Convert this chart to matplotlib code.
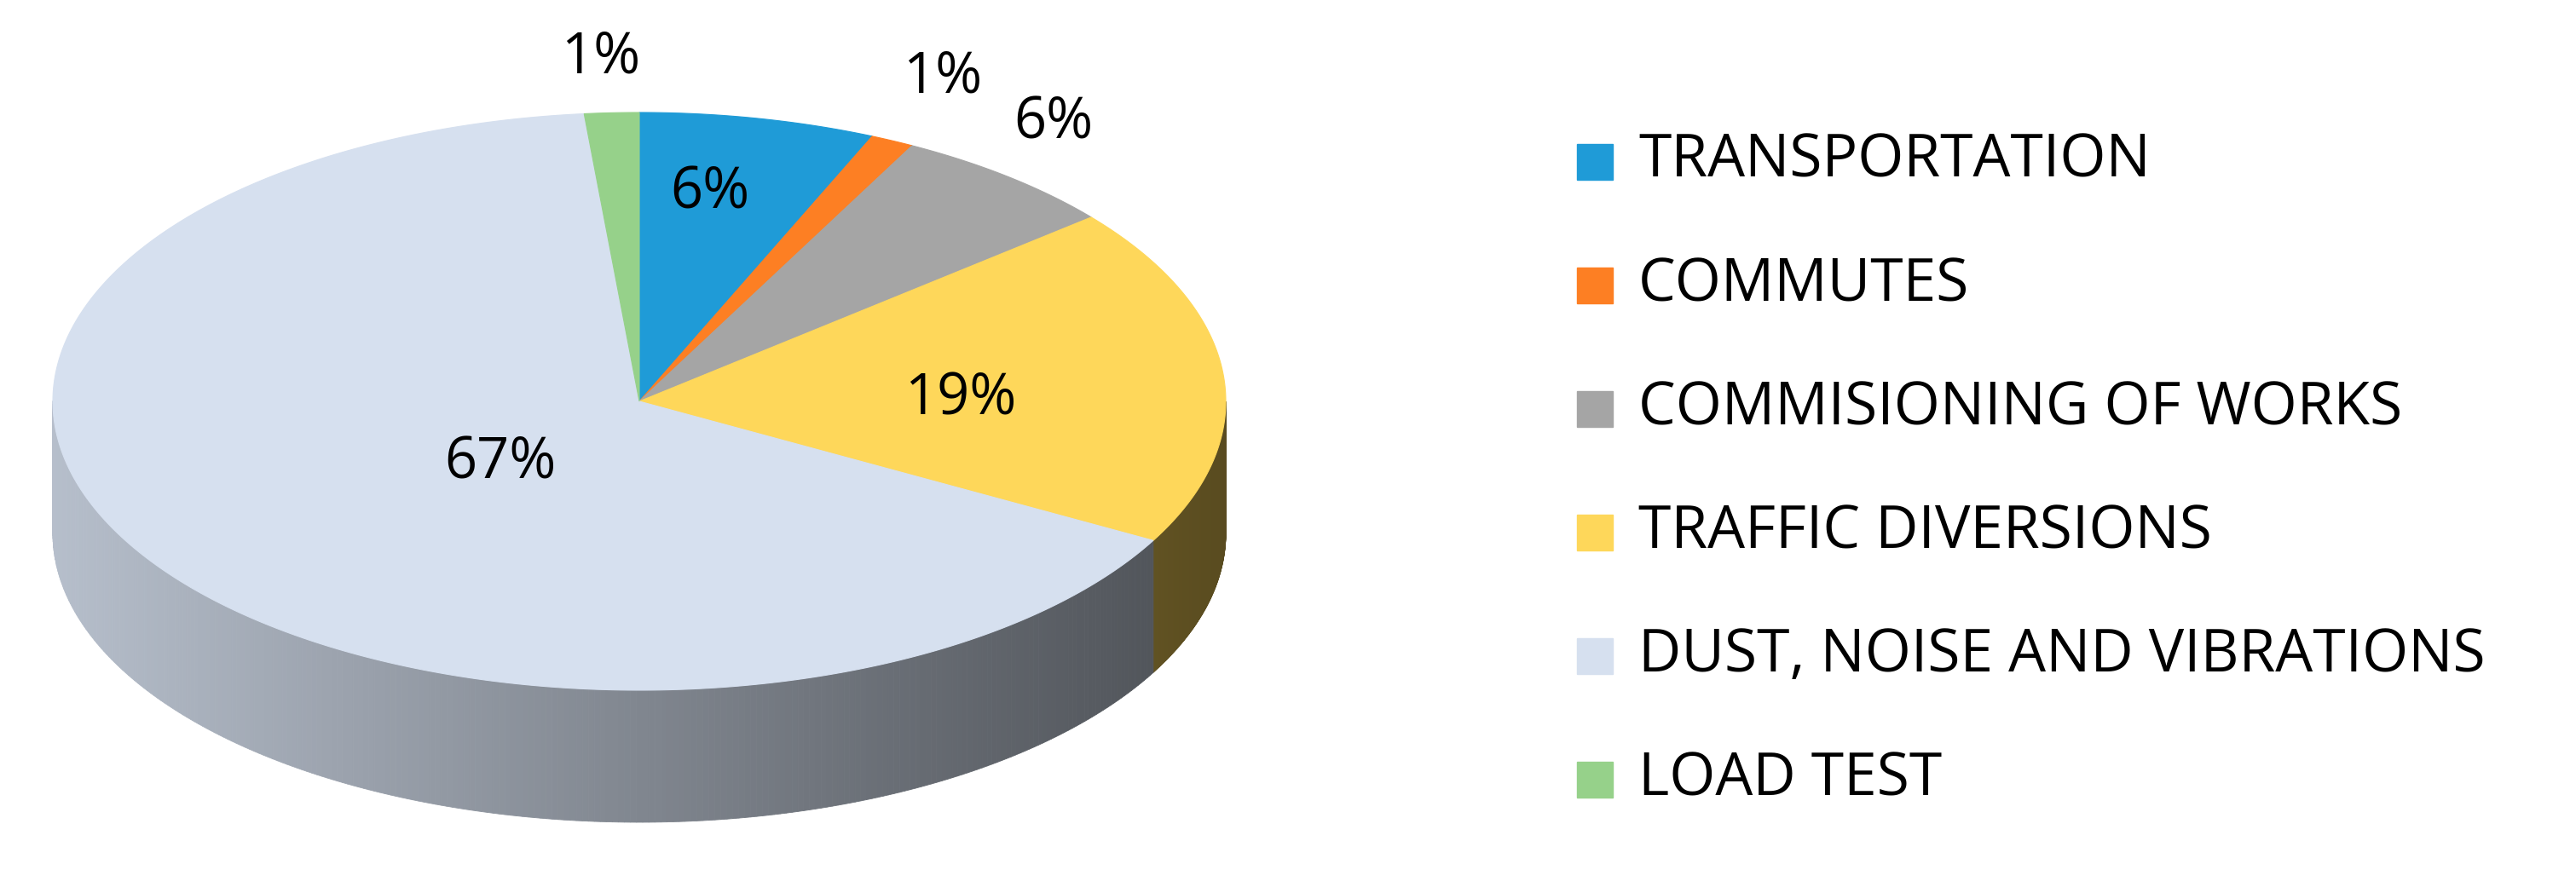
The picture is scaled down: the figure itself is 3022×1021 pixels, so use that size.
import numpy as np
import matplotlib
matplotlib.use("Agg")
import matplotlib.pyplot as plt

categories = ["TRANSPORTATION", "COMMUTES", "COMMISIONING OF WORKS",
              "TRAFFIC DIVERSIONS", "DUST, NOISE AND VIBRATIONS", "LOAD TEST"]
values = [6.5, 1.2, 6.3, 19, 65.5, 1.5]
labels = ["6%", "1%", "6%", "19%", "67%", "1%"]
colors = ["#1f9bd7", "#fd7f23", "#a5a5a5", "#fed75a", "#d6e0ef", "#96d18a"]

W, H = 3022, 1021
fig = plt.figure(figsize=(W/100, H/100), dpi=100)
ax = fig.add_axes([0, 0, 1, 1])
ax.set_xlim(0, W); ax.set_ylim(H, 0); ax.axis("off")

cx, cy, rx, ry, depth = 750, 471, 688, 339, 155
def pt(t):
    r = np.radians(t)
    return cx + rx*np.cos(r), cy - ry*np.sin(r)

vals = np.array(values, float)
frac = vals / vals.sum()
cum = np.concatenate([[0], np.cumsum(frac)])
starts = 90 - 360*cum[:-1]
ends = 90 - 360*cum[1:]

# side wall
for i in range(len(vals)):
    ts = np.linspace(ends[i], starts[i], 400)
    base = np.array(matplotlib.colors.to_rgb(colors[i]))
    for a, b in zip(ts[:-1], ts[1:]):
        m = (a + b) / 2 % 360
        if not (180 < m < 360):
            continue
        x1, y1 = pt(a); x2, y2 = pt(b)
        xm = (x1 + x2)/2
        f = 0.85 - 0.5*(xm - (cx - rx))/(2*rx)
        c = np.clip(base*f, 0, 1)
        ax.fill([x1, x2, x2, x1], [y1, y2, y2+depth, y1+depth], color=c, lw=0.6, ec=c)

# top
for i in range(len(vals)):
    ts = np.linspace(ends[i], starts[i], 300)
    xs, ys = pt(ts)
    ax.fill(np.r_[cx, xs], np.r_[cy, ys], color=colors[i], lw=0.8, ec=colors[i])

fp = dict(fontsize=48, family="Open Sans", color="black", ha="center", va="center")
lpos = [(833, 227), (1106, 91), (1236, 145), (1127, 469), (587, 544), (705, 68)]
for (x, y), t in zip(lpos, labels):
    ax.text(x, y, t, **fp)

for k, c in enumerate(categories):
    y = 190 + k*145
    ax.add_patch(plt.Rectangle((1850, y-21), 42, 42, color=colors[k]))
    ax.text(1922, y, c, fontsize=50, family="Open Sans", va="center", ha="left")

fig.savefig("out.png", dpi=100)
